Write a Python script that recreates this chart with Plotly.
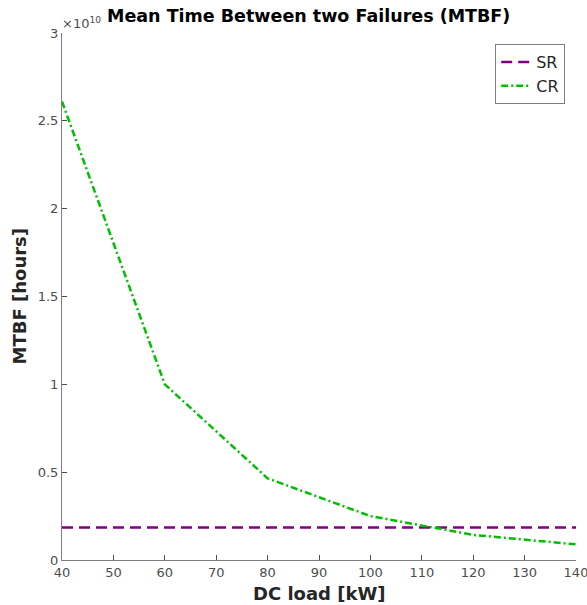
import plotly.graph_objects as go

dc_load = [40, 60, 80, 100, 120, 140]
cr_mtbf = [2.61e10, 1.0e10, 0.465e10, 0.25e10, 0.143e10, 0.089e10]
sr_load = [40, 140]
sr_mtbf = [1.85e9, 1.85e9]
scale = 1e10
x_ticks = list(range(40, 141, 10))
y_ticks = [0, 0.5, 1, 1.5, 2, 2.5, 3]

fig = go.Figure()
fig.add_trace(go.Scatter(x=sr_load, y=[v / scale for v in sr_mtbf], mode="lines", name="SR",
                         line=dict(color="rgb(128,0,128)", width=2.5, dash="11px,6px")))
fig.add_trace(go.Scatter(x=dc_load, y=[v / scale for v in cr_mtbf], mode="lines", name="CR",
                         line=dict(color="rgb(0,190,0)", width=2.5, dash="7px,3px,2px,3px")))

axis_common = dict(showline=True, linecolor="#7f7f7f", linewidth=1, ticks="inside", ticklen=5,
                   tickcolor="#4d4d4d", showgrid=False, zeroline=False, mirror=False,
                   automargin=False, ticklabeloverflow="allow",
                   tickfont=dict(family="DejaVu Sans", size=13, color="#4d4d4d"))

fig.update_layout(
    width=587, height=605,
    margin=dict(l=62, r=11, t=33, b=45, autoexpand=False),
    plot_bgcolor="white", paper_bgcolor="white",
    showlegend=True,
    legend=dict(x=0.979, y=0.979, xanchor="right", yanchor="top",
                bordercolor="#7f7f7f", borderwidth=1, bgcolor="white",
                font=dict(family="DejaVu Sans", size=16, color="#262626"),
                tracegroupgap=0, itemwidth=30),
    xaxis=dict(range=[40, 140], tickvals=x_ticks, **axis_common),
    yaxis=dict(range=[0, 3], tickvals=y_ticks, **axis_common),
    annotations=[
        dict(text="<b>Mean Time Between two Failures (MTBF)</b>", xref="paper", yref="paper",
             x=(308 - 62) / 514, y=1.0, yshift=5, xanchor="center", yanchor="bottom", showarrow=False,
             font=dict(family="DejaVu Sans", size=17.5, color="black")),
        dict(text="\u00d710<sup>10</sup>", xref="paper", yref="paper", x=0, y=1.0,
             xanchor="left", yanchor="bottom", showarrow=False, yshift=0, xshift=-2,
             font=dict(family="DejaVu Sans", size=13, color="#4d4d4d")),
        dict(text="<b>DC load [kW]</b>", xref="paper", yref="paper", x=0.5, y=0,
             xanchor="center", yanchor="middle", yshift=-33, showarrow=False,
             font=dict(family="DejaVu Sans", size=18, color="#262626")),
        dict(text="<b>MTBF [hours]</b>", xref="paper", yref="paper", x=0, y=0.5,
             xanchor="center", yanchor="middle", xshift=-43, textangle=-90, showarrow=False,
             font=dict(family="DejaVu Sans", size=18, color="#262626")),
    ],
)

fig.write_html("out.html", config={"displayModeBar": False},
               post_script="document.body.style.margin='0';document.body.style.overflow='hidden';")
